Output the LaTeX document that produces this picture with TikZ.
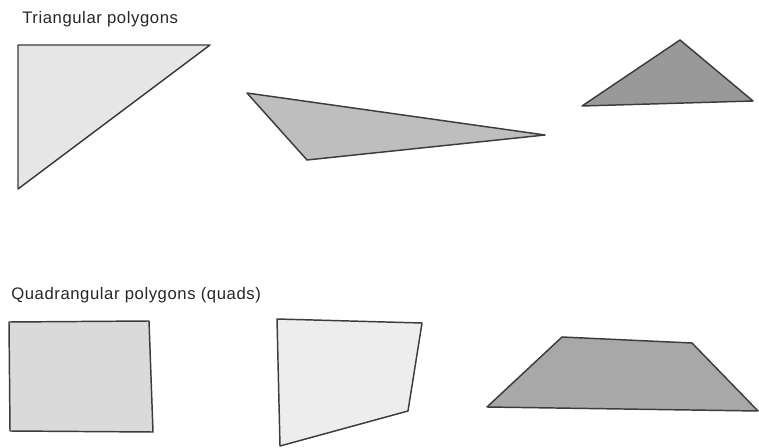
\documentclass[tikz,border=0pt]{standalone}
\usepackage{fontspec}
\setmainfont{Liberation Sans}
\newfontfamily\captionfont{Liberation Sans}[LetterSpace=3.5]
\usetikzlibrary{positioning}
\definecolor{PolyInk}{HTML}{3C3C3C}
\definecolor{PolyLight}{HTML}{E6E6E6}
\definecolor{PolyPale}{HTML}{DADADA}
\definecolor{PolyMid}{HTML}{BEBEBE}
\definecolor{PolyDark}{HTML}{999999}
\definecolor{PolyText}{HTML}{262626}
\tikzset{
  every node/.style={text=PolyText},
  heading/.style={anchor=base west, inner sep=0pt, font=\captionfont\fontsize{12.5}{15}\selectfont},
  polygon/.style={draw=PolyInk, line width=1.1pt, line join=round},
}

\begin{document}
\begin{tikzpicture}[x=0.02635cm,y=-0.02635cm]
  \useasboundingbox (0,0) rectangle (759,448);
  % Row headings
  \node[heading] (trihead) at (22,24) {Triangular polygons};
  \node[heading] (quadhead) at (11,299) {Quadrangular polygons (quads)};
  % Triangles
  \draw[polygon, fill=PolyLight] (18,45) -- (210,45) -- (18,189) -- cycle;
  \draw[polygon, fill=PolyMid] (247,93) -- (545,135) -- (307,160) -- cycle;
  \draw[polygon, fill=PolyDark] (680,40) -- (753,101) -- (582,106) -- cycle;
  % Quads
  \draw[polygon, fill=PolyPale] (9,322) -- (149,321) -- (153,432) -- (10,431) -- cycle;
  \draw[polygon, fill=PolyLight!70!white] (277,319) -- (422,323) -- (408,411) -- (280,446) -- cycle;
  \draw[polygon, fill=PolyDark!85!white] (562,337) -- (692,343) -- (758,411) -- (487,407) -- cycle;
\end{tikzpicture}
\end{document}
